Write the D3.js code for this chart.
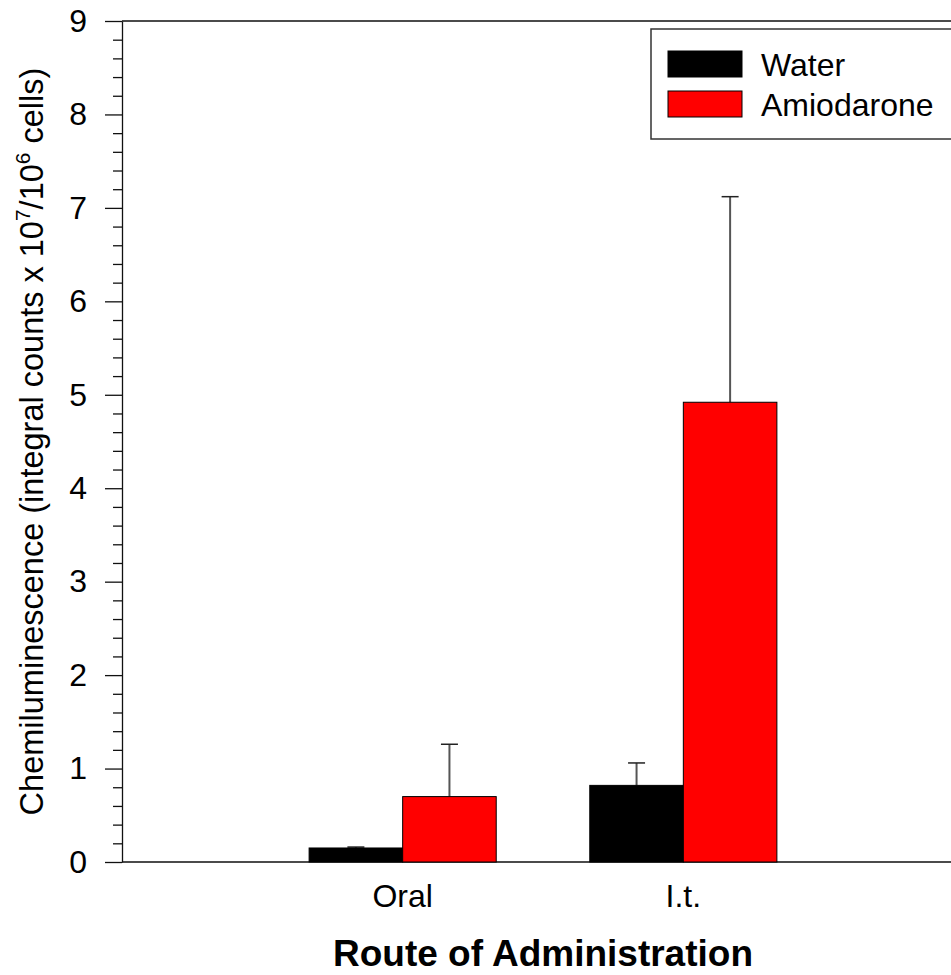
<!DOCTYPE html>
<html>
<head>
<meta charset="utf-8">
<script src="https://cdnjs.cloudflare.com/ajax/libs/d3/7.8.5/d3.min.js"></script>
<style>
  body { margin: 0; background: #fff; }
  svg { display: block; font-family: "Liberation Sans", Arial, sans-serif; }
</style>
</head>
<body>
<svg id="chart" width="951" height="975"></svg>
<script>
// data
var routes = ["Oral", "I.t."]
var series = ["Water", "Amiodarone"]
var water = [0.15, 0.82]
var waterErr = [0.01, 0.24]
var amio = [0.70, 4.92]
var amioErr = [0.56, 2.20]
var yTicks = [0, 1, 2, 3, 4, 5, 6, 7, 8, 9]
var colors = ["#000000", "#ff0000"]

var width = 951, height = 975
var margin = { top: 21, left: 122, bottom: 113, right: -13 }

var svg = d3.select("#chart")

// x: groups sit at 1 and 2, plot runs 0..3 (right edge falls outside the window)
var x = d3.scaleLinear().domain([0, 3]).range([margin.left, width - margin.right])
var y = d3.scaleLinear().domain([0, 9]).range([height - margin.bottom, margin.top])
var barW = (x(1) - x(0)) / 3

// frame lines
svg.append("path")
  .attr("d", "M" + x(0) + "," + y(9) + "H" + x(3) + "M" + x(0) + "," + y(0) + "H" + x(3))
  .attr("stroke", "#111").attr("stroke-width", 1.3).attr("fill", "none")

// minor ticks
var minor = d3.range(0, 9.01, 0.2).filter(v => Math.abs(v - Math.round(v)) > 0.01)
svg.append("g")
  .attr("transform", "translate(" + x(0) + ",0)")
  .call(d3.axisLeft(y).tickValues(minor).tickSize(9).tickSizeOuter(0).tickFormat(""))
  .call(g => g.selectAll("line").attr("stroke", "#111").attr("stroke-width", 1.3))
  .call(g => g.select(".domain").remove())

// major ticks + labels
svg.append("g")
  .attr("transform", "translate(" + x(0) + ",0)")
  .call(d3.axisLeft(y).tickValues(yTicks).tickSize(17).tickPadding(18).tickSizeOuter(0).tickFormat(d3.format("d")))
  .call(g => g.selectAll("line").attr("stroke", "#111").attr("stroke-width", 1.3))
  .call(g => g.select(".domain").attr("stroke", "#111").attr("stroke-width", 1.3))
  .call(g => g.selectAll("text").attr("font-size", 32).attr("fill", "#000")
    .attr("font-family", "Liberation Sans, Arial, sans-serif"))

// bars
var groups = [water, amio]
var errs = [waterErr, amioErr]
series.forEach(function (s, si) {
  var g = svg.append("g").attr("class", "series-" + si)
  var rows = routes.map((r, i) => ({ i: i, v: groups[si][i], e: errs[si][i] }))
  var x0 = d => x(d.i + 1) + (si === 0 ? -barW : 0)

  // error bars (upper only)
  g.selectAll(".err").data(rows).enter().append("line")
    .attr("x1", d => x0(d) + barW / 2).attr("x2", d => x0(d) + barW / 2)
    .attr("y1", d => y(d.v)).attr("y2", d => y(d.v + d.e))
    .attr("stroke", "#555").attr("stroke-width", 2)
  g.selectAll(".cap").data(rows).enter().append("line")
    .attr("x1", d => x0(d) + barW / 2 - 8.5).attr("x2", d => x0(d) + barW / 2 + 8.5)
    .attr("y1", d => y(d.v + d.e)).attr("y2", d => y(d.v + d.e))
    .attr("stroke", "#222").attr("stroke-width", 1.5)

  g.selectAll("rect").data(rows).enter().append("rect")
    .attr("x", x0)
    .attr("y", d => y(d.v))
    .attr("width", barW)
    .attr("height", d => y(0) - y(d.v))
    .attr("fill", colors[si])
    .attr("stroke", "#000").attr("stroke-width", 1)
})

// category labels
svg.selectAll(".cat").data(routes).enter().append("text")
  .attr("x", (d, i) => x(i + 1))
  .attr("y", 907)
  .attr("text-anchor", "middle")
  .attr("font-size", 32)
  .text(d => d)

// axis titles
svg.append("text")
  .attr("x", (x(0) + x(3)) / 2)
  .attr("y", 966)
  .attr("text-anchor", "middle")
  .attr("font-size", 37)
  .attr("font-weight", "bold")
  .text("Route of Administration")

var ylab = svg.append("text")
  .attr("transform", "translate(43," + (y(0) + y(9)) / 2 + ") rotate(-90)")
  .attr("text-anchor", "middle")
  .attr("font-size", 32.5)
ylab.append("tspan").text("Chemiluminescence (integral counts x 10")
ylab.append("tspan").attr("font-size", 21).attr("dy", -13).text("7")
ylab.append("tspan").attr("dy", 13).text("/10")
ylab.append("tspan").attr("font-size", 21).attr("dy", -13).text("6")
ylab.append("tspan").attr("dy", 13).text(" cells)")

// legend
var legend = svg.append("g").attr("class", "legend")
legend.append("rect")
  .attr("x", 651).attr("y", 29).attr("width", 320).attr("height", 110)
  .attr("fill", "#fff").attr("stroke", "#333").attr("stroke-width", 1.5)
series.forEach(function (s, i) {
  legend.append("rect")
    .attr("x", 668).attr("y", 51 + i * 40).attr("width", 74).attr("height", 26)
    .attr("fill", colors[i]).attr("stroke", "#000").attr("stroke-width", 1)
  legend.append("text")
    .attr("x", 761).attr("y", 76 + i * 40)
    .attr("font-size", 32)
    .text(s)
})
</script>
</body>
</html>
